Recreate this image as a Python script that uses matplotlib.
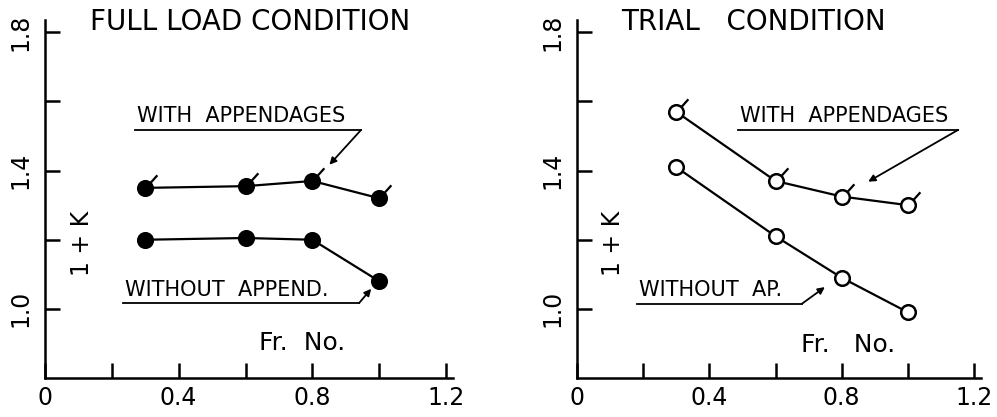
import matplotlib
matplotlib.use('Agg')
import matplotlib.pyplot as plt
import numpy as np
from matplotlib.path import Path

# Froude numbers and form factor (1 + K)
fr = [0.3, 0.6, 0.8, 1.0]
full_with = [1.35, 1.355, 1.37, 1.32]
full_without = [1.20, 1.205, 1.20, 1.08]
trial_with = [1.57, 1.37, 1.325, 1.30]
trial_without = [1.41, 1.21, 1.09, 0.99]

x_ticks = [0, 0.2, 0.4, 0.6, 0.8, 1.0, 1.2]
x_labels = ['0', '', '0.4', '', '0.8', '', '1.2']
y_ticks = [1.0, 1.2, 1.4, 1.6, 1.8]
y_labels = ['1.0', '', '1.4', '', '1.8']

plt.rcParams['font.family'] = ['DejaVu Sans Condensed', 'Liberation Sans Narrow', 'DejaVu Sans']

# small flag drawn on the "with appendages" points
a = np.deg2rad(48)
tail = Path([(0.45*np.cos(a), 0.45*np.sin(a)), (np.cos(a), np.sin(a))],
            [Path.MOVETO, Path.LINETO])


def setup(ax, title):
    ax.set_xlim(0, 1.22); ax.set_ylim(0.8, 1.835)
    for s in ['top', 'right']:
        ax.spines[s].set_visible(False)
    for s in ['left', 'bottom']:
        ax.spines[s].set_linewidth(1.8)
    ax.set_xticks(x_ticks); ax.set_xticklabels(x_labels)
    ax.set_yticks(y_ticks); ax.set_yticklabels(y_labels, rotation=90, va='center')
    ax.tick_params(direction='in', length=11, width=1.8, labelsize=17)
    ax.tick_params(axis='x', pad=6)
    ax.tick_params(axis='y', pad=9)
    ax.text(0.11, 0.994, title, transform=ax.transAxes, ha='left', va='center', fontsize=20)
    ax.text(0.11, 1.19, '1 + K', rotation=90, ha='center', va='center', fontsize=17)


def series(ax, y, filled, flag):
    ax.plot(fr, y, '-', color='k', lw=1.6, marker='o', ms=10.5,
            mfc='k' if filled else 'white', mec='k', mew=1.8, zorder=3)
    if flag:
        ax.plot(fr, y, ls='none', marker=tail, ms=19, mfc='none', mec='k', mew=1.6, zorder=4)


def label(ax, text, x0, x1, y, tip):
    ax.text(x0 + 0.005, y + 0.01, text, ha='left', va='bottom', fontsize=15)
    ax.plot([x0, x1], [y, y], color='k', lw=1.3)
    ax.annotate('', xy=tip, xytext=(x1, y),
                arrowprops=dict(arrowstyle='-|>', color='k', lw=1.3, mutation_scale=10,
                                shrinkA=0, shrinkB=0))


fig = plt.figure(figsize=(9.97, 4.17), dpi=100)
ax1 = fig.add_axes([0.0451, 0.0935, 0.409, 0.858])
ax2 = fig.add_axes([0.5787, 0.0935, 0.405, 0.858])

setup(ax1, 'FULL LOAD CONDITION')
series(ax1, full_with, True, True)
series(ax1, full_without, True, False)
label(ax1, 'WITH  APPENDAGES', 0.27, 0.946, 1.518, (0.851, 1.417))
label(ax1, 'WITHOUT  APPEND.', 0.233, 0.94, 1.017, (0.976, 1.058))
ax1.text(0.77, 0.90, 'Fr.  No.', ha='center', va='center', fontsize=18)

setup(ax2, 'TRIAL   CONDITION')
series(ax2, trial_with, False, True)
series(ax2, trial_without, False, False)
label(ax2, 'WITH  APPENDAGES', 0.487, 1.152, 1.518, (0.88, 1.368))
label(ax2, 'WITHOUT  AP.', 0.182, 0.68, 1.015, (0.749, 1.063))
ax2.text(0.82, 0.895, 'Fr.   No.', ha='center', va='center', fontsize=18)

fig.savefig('out.png', dpi=100)
